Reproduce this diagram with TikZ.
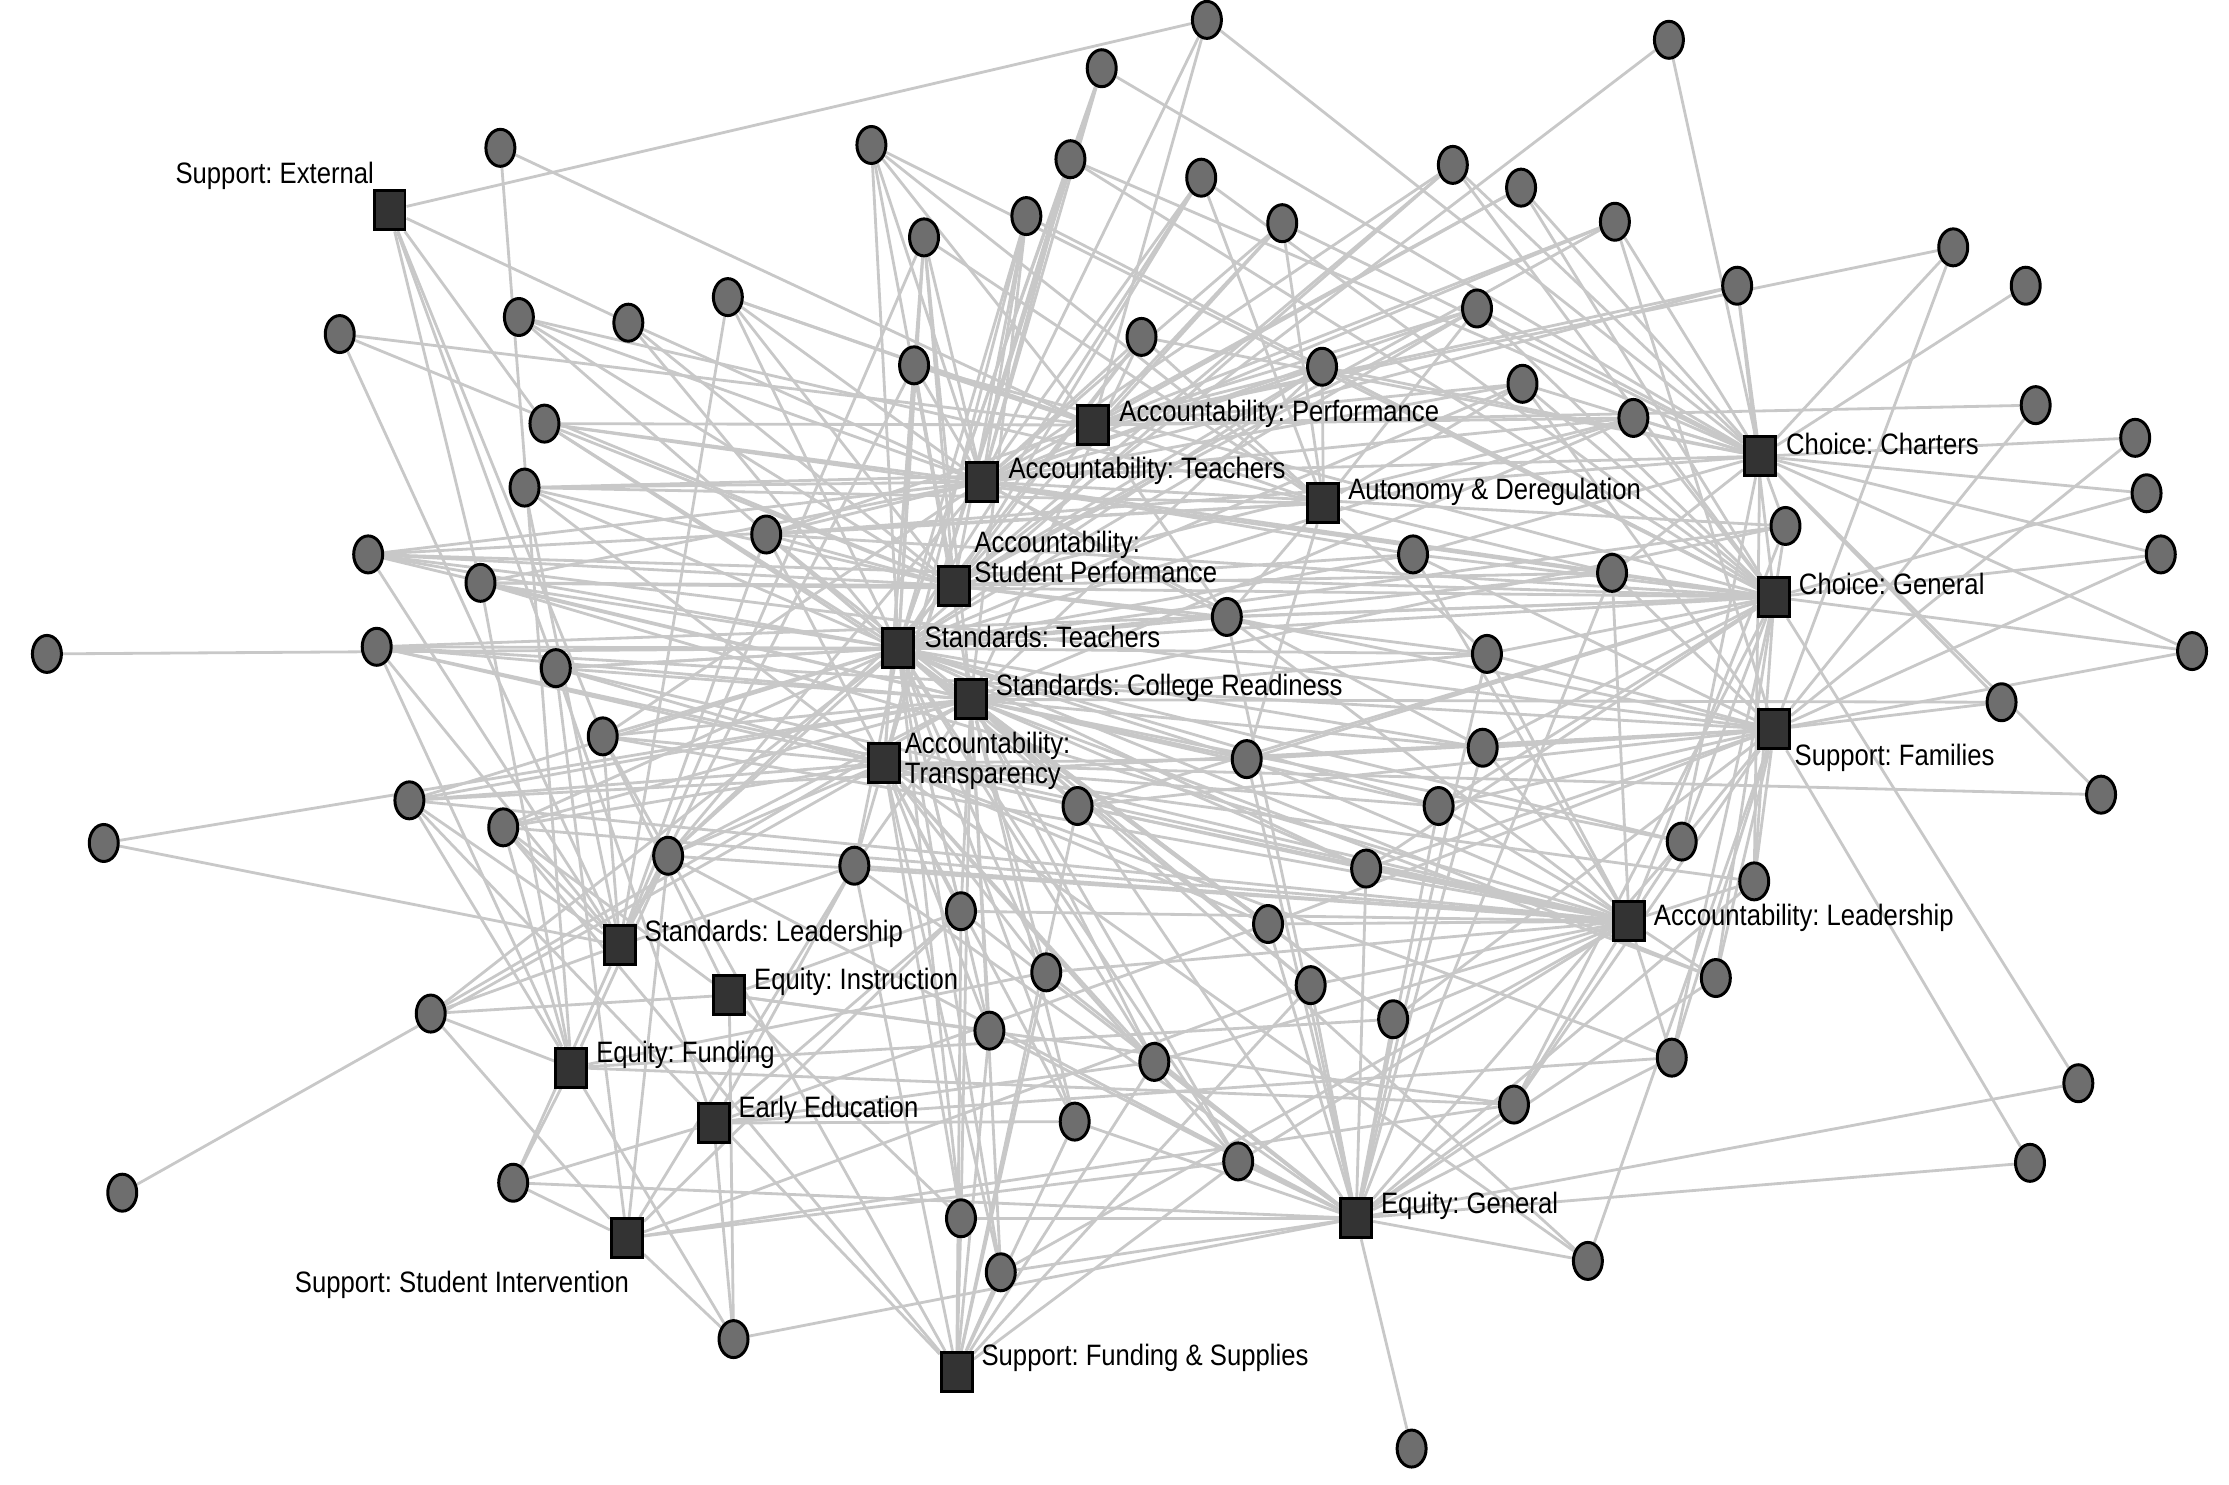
\documentclass[tikz,border=0pt]{standalone}
\usepackage{fontspec}
\setmainfont{Liberation Sans}[FakeStretch=0.87]
\usetikzlibrary{shapes.geometric}
\pgfdeclarelayer{bg}
\pgfsetlayers{bg,main}
\definecolor{edgegray}{RGB}{200,200,200}
\definecolor{circfill}{RGB}{110,110,110}
\definecolor{sqfill}{RGB}{51,51,51}
\frenchspacing
\begin{document}
\begin{tikzpicture}[x=0.014216cm,y=-0.014216cm,
 circ/.style={ellipse,draw=black,fill=circfill,line width=0.85pt,minimum width=0.29cm,minimum height=0.37cm,inner sep=0pt},
 sq/.style={rectangle,draw=black,fill=sqfill,line width=0.85pt,minimum width=0.31cm,minimum height=0.39cm,inner sep=0pt},
 lab/.style={anchor=west,inner sep=0pt,font=\fontsize{8.4pt}{8.6pt}\selectfont\frenchspacing,align=left},
 lnk/.style={draw=edgegray,line width=0.8pt}]
\useasboundingbox (0,0) rectangle (1568,1044);
% squares
\node[sq] (SE) at (274,148) {};
\node[sq] (AP) at (769,299) {};
\node[sq] (AT) at (691,339) {};
\node[sq] (AD) at (931,354) {};
\node[sq] (ASP) at (671,412) {};
\node[sq] (ST) at (632,456) {};
\node[sq] (SCR) at (683,492) {};
\node[sq] (ATr) at (622,537) {};
\node[sq] (CC) at (1238,321) {};
\node[sq] (CG) at (1248,420) {};
\node[sq] (SF) at (1248,513) {};
\node[sq] (AL) at (1146,648) {};
\node[sq] (SL) at (436,665) {};
\node[sq] (EI) at (513,700) {};
\node[sq] (EF) at (402,751) {};
\node[sq] (EE) at (502,790) {};
\node[sq] (SSI) at (441,871) {};
\node[sq] (SFS) at (673,965) {};
\node[sq] (EG) at (954,857) {};
% labels
\node[lab] (lSE) at (123,124) {Support: External};
\node[lab] (lAP) at (787,291) {Accountability: Performance};
\node[lab] (lAT) at (709,331) {Accountability: Teachers};
\node[lab] (lAD) at (948,346) {Autonomy \& Deregulation};
\node[lab] (lASP) at (685,392) {Accountability:\\Student Performance};
\node[lab] (lST) at (650,448) {Standards: Teachers};
\node[lab] (lSCR) at (700,484) {Standards: College Readiness};
\node[lab] (lATr) at (636,535) {Accountability:\\Transparency};
\node[lab] (lCC) at (1256,312) {Choice: Charters};
\node[lab] (lCG) at (1265,411) {Choice: General};
\node[lab] (lSF) at (1262,533) {Support: Families};
\node[lab] (lAL) at (1163,646) {Accountability: Leadership};
\node[lab] (lSL) at (453,657) {Standards: Leadership};
\node[lab] (lEI) at (530,691) {Equity: Instruction};
\node[lab] (lEF) at (419,742) {Equity: Funding};
\node[lab] (lEE) at (519,781) {Early Education};
\node[lab] (lSSI) at (207,904) {Support: Student Intervention};
\node[lab] (lSFS) at (690,955) {Support: Funding \& Supplies};
\node[lab] (lEG) at (971,848) {Equity: General};
% circles
\foreach \n/\x/\y in {c1/849/14, c2/775/48, c3/1174/28, c4/352/104, c5/613/102, c6/753/112,
 c7/1022/116, c8/845/125, c9/1070/132, c10/722/152, c11/650/167, c12/902/157, c13/1136/156,
 c14/1374/174, c15/1222/201, c16/1425/201, c17/512/209, c18/239/235, c19/365/223, c20/442/227,
 c21/1039/217, c22/803/237, c23/643/257, c24/930/258, c25/1071/270, c26/1432/285, c27/1149/294,
 c28/383/298, c29/369/343, c30/1502/308, c31/1510/347, c32/1256/370, c33/539/376, c34/994/390,
 c35/259/390, c36/1520/390, c37/338/410, c38/1134/403, c39/863/434, c40/33/460, c41/265/455,
 c42/391/470, c43/1046/460, c44/1542/458, c45/1408/494, c46/424/518, c47/877/534, c48/1043/526,
 c49/288/563, c50/354/582, c51/758/567, c52/1012/567, c53/1478/559, c54/73/593, c55/470/602,
 c56/601/609, c57/961/611, c58/1183/592, c59/1234/620, c60/676/641, c61/892/650, c62/736/684,
 c63/922/693, c64/1207/688, c65/303/713, c66/980/717, c67/696/725, c68/812/747, c69/1176/744,
 c70/1462/762, c71/756/789, c72/1065/777, c73/871/817, c74/1428/818, c75/86/839, c76/361/832,
 c77/676/857, c78/704/895, c79/1117/887, c80/516/942, c81/993/1019}
 {\node[circ] (\n) at (\x,\y) {};}
% connectors
\begin{pgfonlayer}{bg}
\foreach \c/\l in {
 c1/{SE,AT,AP,CC}, c2/{AT,ST,ATr,CC}, c3/{ASP,CC}, c4/{EF,AP},
 c5/{AT,ST,ASP,AP,CG,AD}, c6/{CC,CG,AT,ST,ATr}, c7/{CC,AT,ASP,ST,CG},
 c8/{AT,ASP,ST,AD,CG}, c9/{CC,CG,AT,AP}, c10/{AT,ST,ASP,SCR,ATr,CG},
 c11/{AT,ASP,ST,ATr,SCR,SL,AD}, c12/{AP,AT,ASP,CC,AD}, c13/{CC,AP,AT,ASP,SF},
 c14/{AP,CC,SF}, c15/{AP,AT,CC,CG}, c16/{CC}, c17/{SL,AP,AT,ASP,ST,AD},
 c18/{AP,ASP,SL}, c19/{AT,ASP,ST,AD}, c20/{SE,AT,ASP,ST},
 c21/{AP,AT,ASP,ST,CC,CG,AD}, c22/{AT,ASP,ST,SCR,AD,CC},
 c23/{AT,ASP,ST,ATr,SCR,AP,SL,CG}, c24/{AT,AP,ASP,ST,SCR,CC,AD,CG},
 c25/{AP,AT,ST,CC,CG,SF,AD}, c26/{AP,SF}, c27/{AP,AT,ASP,ST,SCR,CC,CG},
 c28/{SE,AT,ASP,ST,SCR,CG,AP}, c29/{AT,AD,ASP,ST,ATr,SL,CC}, c30/{CC,SF}, c31/{CC,CG},
 c32/{CG,CC,AT,ST,SCR,AL}, c33/{AT,ASP,ST,SCR,ATr,AP,CG,AD,SL,CC},
 c34/{AT,ASP,ST,CC,CG,AL,SF}, c35/{ASP,ST,AT,CG,SL,SCR,SF,AD}, c36/{CC,CG,SF},
 c37/{SE,ASP,ST,SCR,AL,EF,CG,AT}, c38/{AT,ASP,ST,CC,CG,SF,EG,AD,AL},
 c39/{ST,ASP,AT,AP,CG,SF,EG,AD,AL}, c40/{ST}, c41/{ST,SCR,CG,SF,SL,EF,AL,ATr},
 c42/{SE,ST,SCR,ATr,AL,SSI,EE,CG}, c43/{ST,ASP,SCR,CG,SF,AL,AD,EG}, c44/{CC,CG,SF},
 c45/{CC,SCR,SF}, c46/{SE,ST,SCR,ATr,AT,EI,SFS,SL,AL}, c47/{ST,SCR,ATr,EG,AL,CG,AD,SF},
 c48/{ST,SCR,CG,SF,AL,EG,AT}, c49/{SCR,ST,ATr,AL,EF,SL,SFS,SF},
 c50/{ST,ATr,SCR,SL,EI,EF,SFS,AL}, c51/{ST,SCR,ATr,EG,AL,SFS,CG,SF},
 c52/{ST,SCR,CG,SF,AL,EG,ATr}, c53/{CC,ATr}, c54/{SCR,SL},
 c55/{ST,SCR,ATr,ASP,AT,EF,SSI,SL,AL,EG}, c56/{ST,ATr,SCR,SFS,EE,EG,SL,SSI,AL},
 c57/{EG,AL,ST,SCR,ATr,CG,SF}, c58/{CG,SF,CC,AL,ST,SCR,EG},
 c59/{CG,SF,AL,CC,ATr,EG}, c60/{SFS,EG,ST,SCR,ATr,EE,EI,SSI,AL},
 c61/{EG,ST,SCR,ATr,AL,SF,EE}, c62/{EG,SFS,ST,ATr,SCR,AL,EF},
 c63/{EG,ST,SCR,AL,SFS,SSI}, c64/{AL,SF,CG,EG,ST,SCR}, c65/{SCR,ST,SL,EF,EI,SSI},
 c66/{EG,AL,ST,SCR,SF,EF}, c67/{SFS,EG,ST,ATr,SCR,EI}, c68/{EG,SFS,ST,SCR,ATr,EE,AL},
 c69/{AL,SF,CG,EG,ATr,EE}, c70/{CG,EG}, c71/{EG,SFS,ATr,SCR,ST,EE},
 c72/{EG,AL,SF,CG,EI,EF,SSI}, c73/{EG,SFS,ST,SCR,ATr,AL,SSI}, c74/{SF,EG},
 c75/{ATr}, c76/{SL,EF,SSI,EG,EE}, c77/{SFS,ATr,SCR,ST,EI,EG},
 c78/{SFS,EG,ST,ATr,SCR,AL}, c79/{EG,SF,ATr,SCR}, c80/{EF,EE,SSI,EG,EI}, c81/{EG}}
 {\foreach \s in \l {\draw[lnk] (\c) -- (\s);}}
\end{pgfonlayer}
\end{tikzpicture}
\end{document}
